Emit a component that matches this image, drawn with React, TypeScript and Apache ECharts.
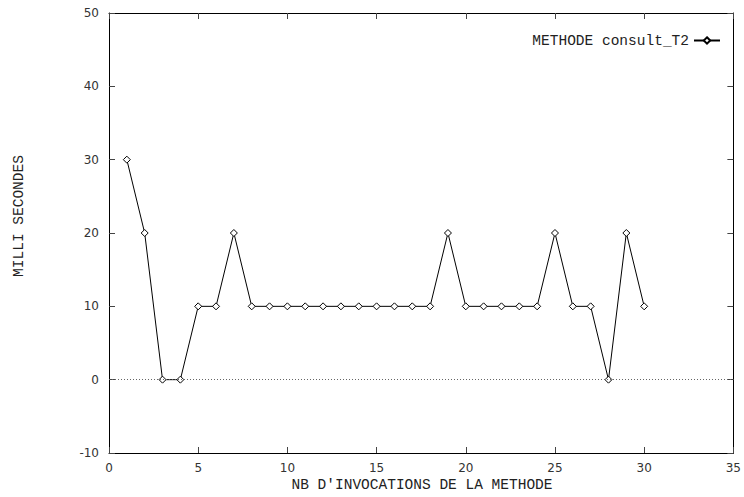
import React, { useEffect, useRef } from "react";
import * as echarts from "echarts";

const xValues = [1, 2, 3, 4, 5, 6, 7, 8, 9, 10, 11, 12, 13, 14, 15, 16, 17, 18, 19, 20, 21, 22, 23, 24, 25, 26, 27, 28, 29, 30];
const yValues = [30, 20, 0, 0, 10, 10, 20, 10, 10, 10, 10, 10, 10, 10, 10, 10, 10, 10, 20, 10, 10, 10, 10, 10, 20, 10, 10, 0, 20, 10];
const seriesName = "METHODE consult_T2";
const xTitle = "NB D'INVOCATIONS DE LA METHODE";
const yTitle = "MILLI SECONDES";

export default function App() {
  const ref = useRef<HTMLDivElement>(null);
  useEffect(() => {
    if (!ref.current) return;
    const chart = echarts.init(ref.current, null, { renderer: "svg" });
    const tickFont = () => ({ fontFamily: "DejaVu Sans", fontSize: 12, color: "#333" });
    const axisLine = () => ({ show: true, onZero: false, lineStyle: { color: "#000", width: 1 } });
    const axisTick = () => ({ show: true, inside: true, length: 6, lineStyle: { color: "#444", width: 1 } });
    const monoFont = "Liberation Mono";
    chart.setOption({
      animation: false,
      backgroundColor: "#fff",
      grid: { left: 109, right: 9, top: 13, bottom: 44, containLabel: false },
      legend: {
        right: 18,
        top: 28,
        align: "right",
        itemWidth: 26,
        itemHeight: 8,
        itemGap: 10,
        textStyle: { fontFamily: monoFont, fontSize: 14.5, color: "#222" },
        data: [seriesName],
      },
      xAxis: [
        {
          type: "value",
          min: 0,
          max: 35,
          interval: 5,
          position: "bottom",
          axisLine: axisLine(),
          axisTick: axisTick(),
          splitLine: { show: false },
          axisLabel: { ...tickFont(), margin: 9 },
        },
        {
          type: "value",
          min: 0,
          max: 35,
          interval: 5,
          position: "top",
          axisLine: axisLine(),
          axisTick: axisTick(),
          splitLine: { show: false },
          axisLabel: { show: false },
        },
      ],
      yAxis: [
        {
          type: "value",
          min: -10,
          max: 50,
          interval: 10,
          position: "left",
          axisLine: axisLine(),
          axisTick: axisTick(),
          splitLine: { show: false },
          axisLabel: { ...tickFont(), margin: 10 },
        },
        {
          type: "value",
          min: -10,
          max: 50,
          interval: 10,
          position: "right",
          axisLine: axisLine(),
          axisTick: axisTick(),
          splitLine: { show: false },
          axisLabel: { show: false },
        },
      ],
      graphic: [
        {
          type: "text",
          x: 422,
          y: 485,
          style: {
            text: xTitle,
            fontFamily: monoFont,
            fontSize: 14.5,
            fill: "#222",
            align: "center",
            verticalAlign: "middle",
          },
        },
        {
          type: "text",
          x: 19,
          y: 216,
          rotation: Math.PI / 2,
          style: {
            text: yTitle,
            fontFamily: monoFont,
            fontSize: 14.5,
            fill: "#222",
            align: "center",
            verticalAlign: "middle",
          },
        },
      ],
      series: [
        {
          name: seriesName,
          type: "line",
          data: xValues.map((x, i) => [x, yValues[i]]),
          symbol: "diamond",
          symbolSize: 7,
          itemStyle: { color: "#fff", borderColor: "#000", borderWidth: 1 },
          lineStyle: { color: "#000", width: 1 },
          markLine: {
            silent: true,
            symbol: "none",
            label: { show: false },
            lineStyle: { color: "#666", type: [1, 2], width: 1 },
            data: [{ yAxis: 0 }],
          },
          z: 3,
        },
      ],
    });
    return () => chart.dispose();
  }, []);
  return <div ref={ref} style={{ width: 744, height: 497, position: "absolute", left: 0, top: 0 }} />;
}
